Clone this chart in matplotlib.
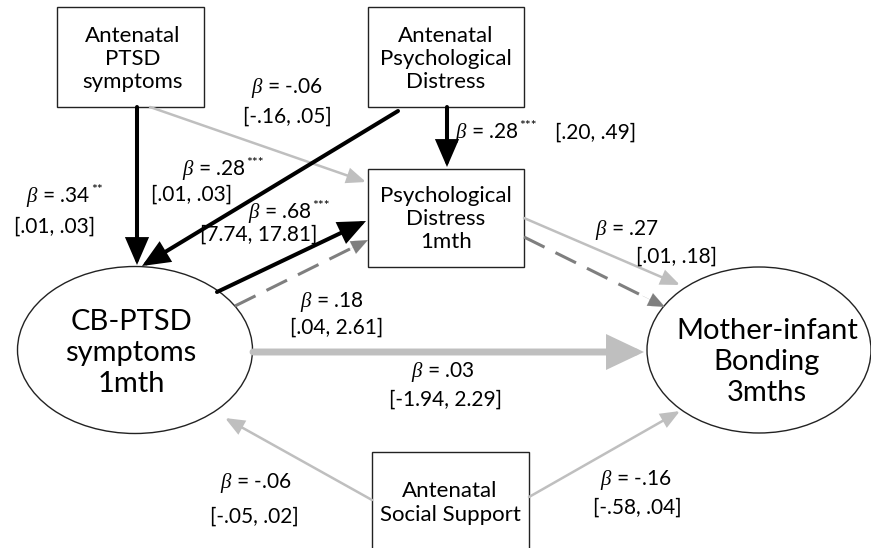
import matplotlib.pyplot as plt
from matplotlib.patches import Rectangle, Ellipse, FancyArrowPatch

plt.rcParams['font.family'] = ['Lato', 'DejaVu Sans']
plt.rcParams['mathtext.fontset'] = 'custom'
plt.rcParams['mathtext.rm'] = 'Lato'
plt.rcParams['mathtext.it'] = 'Liberation Serif:italic'

# variables in the model
box_names = ['Antenatal\nPTSD\nsymptoms', 'Antenatal\nPsychological\nDistress',
             'Psychological\nDistress\n1mth', 'Antenatal\nSocial Support']
oval_names = ['CB-PTSD\nsymptoms\n1mth', 'Mother-infant\nBonding\n3mths']

# path estimates (beta, significance, 95% CI)
betas = ['.34', '-.06', '.28', '.28', '.68', '.18', '.27', '.03', '-.06', '-.16']
stars = ['**', '', '***', '***', '***', '', '', '', '', '']
cis = ['[.01, .03]', '[-.16, .05]', '[.01, .03]', '[.20, .49]', '[7.74, 17.81]',
       '[.04, 2.61]', '[.01, .18]', '[-1.94, 2.29]', '[-.05, .02]', '[-.58, .04]']

# ---- layout (pixels, y down) ----
box_xy = [(57, 7, 147, 100), (368, 7, 156, 100), (368, 169, 156, 98), (372, 452, 157, 120)]
box_txt = [(133, 59), (446, 59), (446, 219), (450, 503)]
oval_xy = [(135, 350, 235, 167), (759, 350, 224, 166)]
oval_txt = [(131, 353), (767, 362)]

BLACK, LIGHT, DARK = '#000000', '#bfbfbf', '#7f7f7f'
# (start, end, color, linewidth pt, head length pt, head half-width pt, dashed)
arrows = [
    ((137, 107), (137, 265), BLACK, 2.9, 15, 6.5, False),
    ((150, 107), (366, 182), LIGHT, 1.8, 11, 4.5, False),
    ((398, 111), (142, 266), BLACK, 2.9, 15, 6.5, False),
    ((447, 107), (447, 167), BLACK, 2.9, 15, 6.5, False),
    ((217, 292), (366, 221), BLACK, 2.9, 15, 6.5, False),
    ((235, 306), (368, 240), DARK, 2.2, 12, 5, True),
    ((524, 218), (680, 285), LIGHT, 1.8, 11, 4.5, False),
    ((524, 237), (665, 307), DARK, 2.2, 12, 5, True),
    ((253, 352), (644, 352), LIGHT, 5.0, 19, 9, False),
    ((372, 500), (225, 418), LIGHT, 1.8, 11, 4.5, False),
    ((529, 497), (680, 411), LIGHT, 1.8, 11, 4.5, False),
]

# label positions: centre of beta line, centre of CI line (left edge when single line)
label_pos = [
    ((58, 197), (55, 227), 'center'),
    ((287, 88), (287, 117), 'center'),
    ((214, 170), (192, 195), 'center'),
    ((455, 133), (555, 133), 'left'),
    ((280, 213), (259, 235), 'center'),
    ((332, 302), (337, 328), 'center'),
    ((627, 230), (676, 257), 'center'),
    ((443, 372), (445, 400), 'center'),
    ((256, 483), (254, 517), 'center'),
    ((636, 480), (637, 508), 'center'),
]

fig = plt.figure(figsize=(8.71, 5.48), dpi=100)
ax = fig.add_axes([0, 0, 1, 1])
ax.set_xlim(0, 871)
ax.set_ylim(548, 0)
ax.axis('off')

for (x, y, w, h), name, (tx, ty) in zip(box_xy, box_names, box_txt):
    ax.add_patch(Rectangle((x, y), w, h, fc='white', ec='#222222', lw=1.0, zorder=1))
    ax.text(tx, ty, name, ha='center', va='center', fontsize=16, linespacing=1.2, zorder=5)

for (cx, cy, w, h), name, (tx, ty) in zip(oval_xy, oval_names, oval_txt):
    ax.add_patch(Ellipse((cx, cy), w, h, fc='white', ec='#222222', lw=1.0, zorder=1))
    ax.text(tx, ty, name, ha='center', va='center', fontsize=21, linespacing=1.22, zorder=5)

for (p0, p1, col, lw, hl, hw, dashed) in arrows:
    style = '-|>,head_length=%g,head_width=%g' % (hl, hw)
    if dashed:
        dx, dy = p1[0] - p0[0], p1[1] - p0[1]
        L = (dx ** 2 + dy ** 2) ** 0.5
        hpx = hl * 100 / 72
        stop = (p1[0] - dx / L * hpx, p1[1] - dy / L * hpx)
        ax.plot([p0[0], stop[0]], [p0[1], stop[1]], color=col, lw=lw,
                dashes=(7.5, 4), solid_capstyle='butt', zorder=3)
        mid = (p1[0] - dx / L * hpx * 1.5, p1[1] - dy / L * hpx * 1.5)
        ax.add_patch(FancyArrowPatch(mid, p1, arrowstyle=style, color=col, lw=0.1,
                                     shrinkA=0, shrinkB=0, mutation_scale=1, zorder=3))
    else:
        ax.add_patch(FancyArrowPatch(p0, p1, arrowstyle=style, color=col, lw=lw,
                                     shrinkA=0, shrinkB=0, mutation_scale=1,
                                     joinstyle='miter', zorder=3))

FS = 15
for b, s, ci, (p_b, p_ci, ha) in zip(betas, stars, cis, label_pos):
    t = ax.text(p_b[0], p_b[1], r'$\beta$ = ' + b, ha=ha, va='center', fontsize=FS, zorder=6)
    if s:
        ax.annotate(s, xy=(1, 1), xycoords=t, xytext=(0.5, 1), textcoords='offset points',
                    ha='left', va='top', fontsize=10, zorder=6)
    ax.text(p_ci[0], p_ci[1], ci, ha=ha, va='center', fontsize=FS, zorder=6)

fig.savefig('out.png', dpi=100)
